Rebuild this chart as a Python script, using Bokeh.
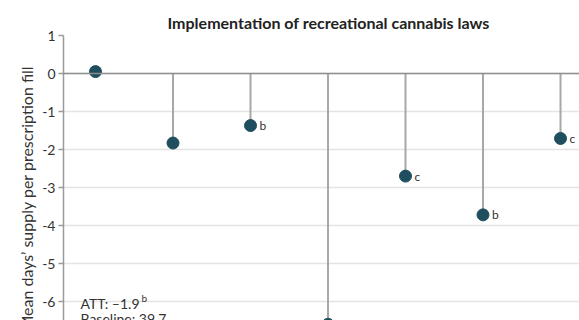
from bokeh.plotting import figure
from bokeh.models import Label, Span, FixedTicker, Title
from bokeh.core.properties import value
from bokeh.embed import file_html
from bokeh.resources import INLINE

# Event-time positions and estimated effects (mean days' supply per fill)
positions = [1, 2, 3, 4, 5, 6, 7]
effects = [0.05, -1.83, -1.37, -6.6, -2.70, -3.72, -1.71]
sig_marks = ["", "", "b", "a", "c", "b", "c"]

y_ticks = [1, 0, -1, -2, -3, -4, -5, -6]
y_tick_labels = ["1", "0", "-1", "-2", "-3", "-4", "-5", "-6"]

title_text = "Implementation of recreational cannabis laws"
y_label_text = "Mean days\u2019 supply per prescription fill"
att_text = "ATT: \u20131.9"
att_sup = "b"
baseline_text = "Baseline: 39.7"

FONT = "Lato"
DOT = "#1f4f5e"
STEM = "#a8a8a8"
TEXT = "#333333"

p = figure(
    width=579, height=320,
    x_range=(0.587, 7.245), y_range=(-6.5, 1.0),
    x_axis_location=None,
    output_backend="svg", toolbar_location=None,
    min_border_left=63, min_border_right=0,
    min_border_top=35, min_border_bottom=0,
)
p.outline_line_color = None
p.background_fill_color = "white"
p.border_fill_color = "white"

# chart title
p.title.text = title_text
p.title.align = "left"
p.title.offset = 104
p.title.text_font = FONT
p.title.text_font_size = "16px"
p.title.text_font_style = "bold"
p.title.text_color = "#222222"
p.title.standoff = 7

# y-axis title, drawn as a side title so it can be shifted along the axis
p.add_layout(Title(text=y_label_text, align="right", offset=30,
                   text_font=FONT, text_font_size="16px",
                   text_font_style="normal", text_color=TEXT,
                   standoff=8), "left")

# y axis
p.yaxis.ticker = FixedTicker(ticks=y_ticks)
p.yaxis.major_label_overrides = dict(zip(y_ticks, y_tick_labels))
p.yaxis.axis_line_color = "#9a9a9a"
p.yaxis.axis_line_width = 1.5
p.yaxis.major_tick_line_color = "#9a9a9a"
p.yaxis.major_tick_line_width = 1.5
p.yaxis.major_tick_out = 5
p.yaxis.major_tick_in = 0
p.yaxis.minor_tick_line_color = None
p.yaxis.major_label_standoff = 3
p.yaxis.major_label_text_font = FONT
p.yaxis.major_label_text_font_size = "14px"
p.yaxis.major_label_text_color = TEXT

# grid
p.xgrid.visible = False
p.ygrid.ticker = FixedTicker(ticks=y_ticks)
p.ygrid.grid_line_color = "#e4e4e4"
p.ygrid.grid_line_width = 1.5

# zero reference line
p.add_layout(Span(location=0, dimension="width", line_color="#8e8e8e", line_width=1.5))

# lollipops
p.segment(x0=positions, y0=[0] * len(positions), x1=positions, y1=effects,
          line_color=STEM, line_width=2)
p.scatter(x=positions, y=effects, size=12, fill_color=DOT, line_color=DOT)

# significance letters next to each point
p.text(x=positions, y=effects, text=sig_marks, x_offset=9, y_offset=0,
       text_font=value(FONT), text_font_size="12px", text_color=TEXT,
       text_align="left", text_baseline="alphabetic")

# summary annotation
p.add_layout(Label(x=0.806, y=-6.053, text=att_text, text_font=FONT,
                   text_font_size="14px", text_color=TEXT,
                   text_align="left", text_baseline="alphabetic"))
p.add_layout(Label(x=1.594, y=-5.91, text=att_sup, text_font=FONT,
                   text_font_size="10px", text_color=TEXT,
                   text_align="left", text_baseline="alphabetic"))
p.add_layout(Label(x=0.806, y=-6.447, text=baseline_text, text_font=FONT,
                   text_font_size="14px", text_color=TEXT,
                   text_align="left", text_baseline="alphabetic"))

open("out.html", "w").write(file_html(p, INLINE))
